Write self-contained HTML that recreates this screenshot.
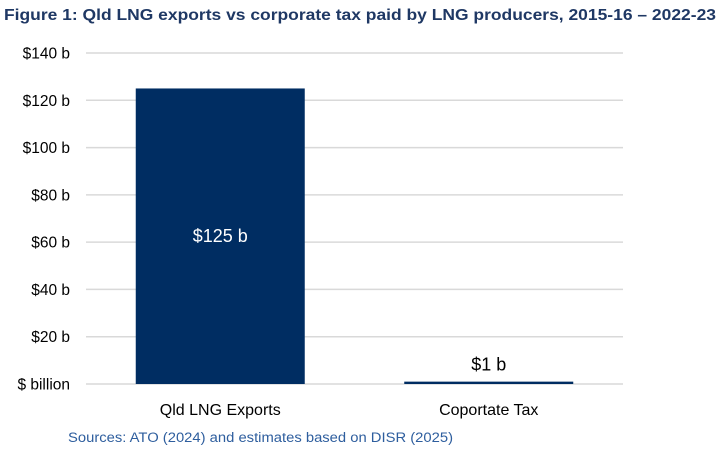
<!DOCTYPE html>
<html><head><meta charset="utf-8"><style>
body{margin:0;background:#fff;width:723px;height:452px;overflow:hidden}
svg{display:block;font-family:"Liberation Sans",sans-serif}
</style></head><body>
<svg id="c" width="723" height="452">
<text x="4" y="20" font-size="16" font-weight="bold" fill="#1F3864" textLength="712" lengthAdjust="spacingAndGlyphs">Figure 1: Qld LNG exports vs corporate tax paid by LNG producers, 2015-16 – 2022-23</text>
<g id="grid"></g><g id="bars"></g><g id="labels"></g>
<text x="68" y="442" font-size="13.5" fill="#2E5E9E" textLength="385" lengthAdjust="spacingAndGlyphs">Sources: ATO (2024) and estimates based on DISR (2025)</text>
</svg>
<script>
const categories=["Qld LNG Exports","Coportate Tax"];
const values=[125,1];
const valueLabels=["$125 b","$1 b"];
const ticks=[0,20,40,60,80,100,120,140];
const tickLabels=["$ billion","$20 b","$40 b","$60 b","$80 b","$100 b","$120 b","$140 b"];
const NS="http://www.w3.org/2000/svg";
const y0=384,pxPer=(384-53)/140,xL=86,xR=623,bw=169;
const y=v=>y0-v*pxPer;
const xc=i=>xL+(xR-xL)*(i+0.5)/categories.length;
function mk(t,a,p){const e=document.createElementNS(NS,t);for(const k in a)e.setAttribute(k,a[k]);p.appendChild(e);return e;}
const g=document.getElementById('grid'),b=document.getElementById('bars'),l=document.getElementById('labels');
ticks.forEach((t,i)=>{
 const ln=mk('line',{x1:xL,x2:xR,y1:y(t),y2:y(t),stroke:'#d9d9d9','stroke-width':1.5},g);
 
 
 const tx=mk('text',{x:70,y:y(t)+5.5,'font-size':15.5,'text-anchor':'end',fill:'#000'},g);
 tx.textContent=tickLabels[i];
 
 
});
categories.forEach((c,i)=>{
 const h=Math.max(values[i]*pxPer,1.5);
 const r=mk('rect',{x:xc(i)-bw/2,y:y0-h,width:bw,height:h,fill:'#002D62'},b);
 
 
 const inside=values[i]>20;
 const vt=mk('text',{x:xc(i),y:inside?y(values[i]/2)+6:y(values[i])-11,'font-size':18,'text-anchor':'middle',fill:inside?'#fff':'#000'},l);
 vt.textContent=valueLabels[i];
 
 
 const ct=mk('text',{x:xc(i),y:415,'font-size':16,'text-anchor':'middle',fill:'#000'},l);
 ct.textContent=c;
 
 
});
</script>
</body></html>
